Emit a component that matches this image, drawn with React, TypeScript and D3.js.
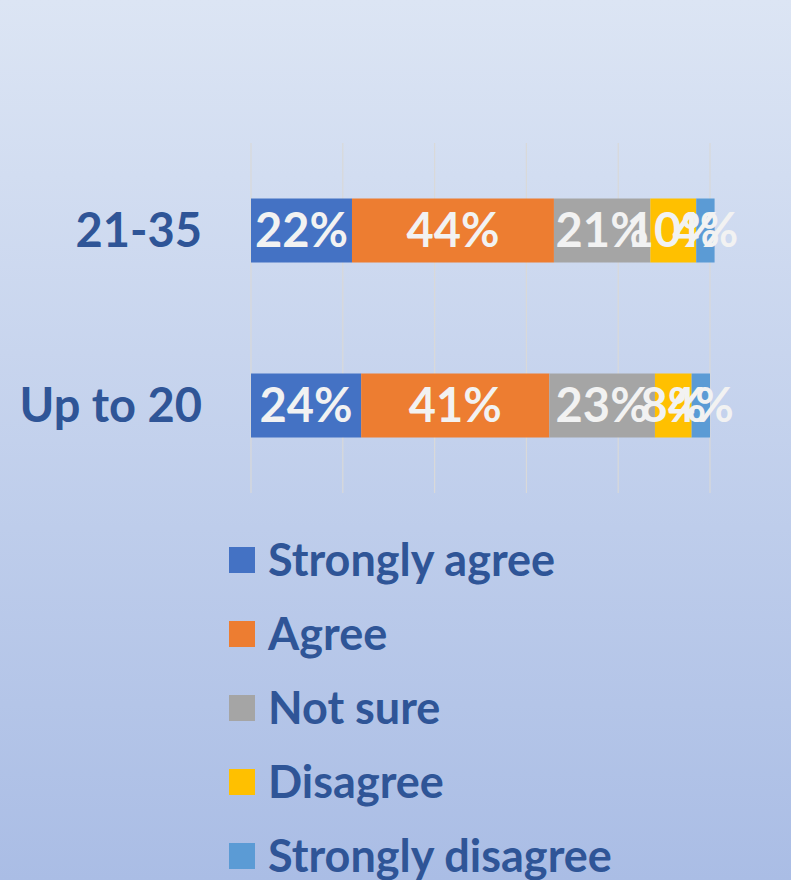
import React from 'react'
import * as d3 from 'd3'

const W = 791
const H = 880

// age groups, top to bottom
const groups = ['21-35', 'Up to 20']
const answers = ['Strongly agree', 'Agree', 'Not sure', 'Disagree', 'Strongly disagree']
const colors = ['#4472c4', '#ed7d31', '#a5a5a5', '#ffc000', '#5b9bd5']
// percent per answer, same order as answers
const values2135 = [22, 44, 21, 10, 4]
const valuesUpTo20 = [24, 41, 23, 8, 4]
const gridTicks = [0, 20, 40, 60, 80, 100]

document.body.style.margin = '0'

const App = () => {
  const x = d3.scaleLinear().domain([0, 100]).range([251, 710])
  const y = d3.scalePoint().domain(groups).range([143, 493]).padding(0.5)
  const barH = 64
  const legendY = d3.scalePoint().domain(answers).range([560, 856])

  const rows = [values2135, valuesUpTo20].map((vals, gi) => {
    let acc = 0
    return vals.map((v, i) => {
      const seg = { group: groups[gi], key: answers[i], x0: acc, x1: acc + v, v, color: colors[i] }
      acc += v
      return seg
    })
  })

  const textColor = '#2f5597'
  const font = 'Lato, "Open Sans", sans-serif'

  return (
    <svg width={W} height={H} style={{ display: 'block' }}>
      <defs>
        <linearGradient id="bg" x1="0" y1="0" x2="0" y2="1">
          <stop offset="0%" stopColor="#dce5f4" />
          <stop offset="100%" stopColor="#aabde5" />
        </linearGradient>
      </defs>
      <rect width={W} height={H} fill="url(#bg)" />

      {/* gridlines */}
      <g>
        {gridTicks.map(t => (
          <line key={t} x1={x(t)} x2={x(t)} y1={143} y2={493} stroke="#d9d9d9" strokeWidth={1.2} />
        ))}
      </g>

      {/* category labels */}
      <g fontFamily={font} fontWeight="bold" fontSize={47} fill={textColor}>
        {groups.map(g => (
          <text key={g} x={202} y={y(g)} dy="0.35em" textAnchor="end">{g}</text>
        ))}
      </g>

      {/* bars */}
      {rows.map((segs, gi) => (
        <g key={gi}>
          {segs.map(s => (
            <rect key={s.key} x={x(s.x0)} y={(y(s.group) as number) - barH / 2}
              width={x(s.x1) - x(s.x0)} height={barH} fill={s.color} />
          ))}
        </g>
      ))}

      {/* data labels */}
      {rows.map((segs, gi) => (
        <g key={'l' + gi} fontFamily={font} fontWeight="bold" fontSize={47} fill="#f2f2f2">
          {segs.map(s => (
            <text key={s.key} x={(x(s.x0) + x(s.x1)) / 2} y={y(s.group)} dy="0.36em" textAnchor="middle">
              {s.v + '%'}
            </text>
          ))}
        </g>
      ))}

      {/* legend */}
      <g fontFamily={font} fontWeight="bold" fontSize={45} fill={textColor}>
        {answers.map((a, i) => (
          <g key={a} transform={`translate(229,${legendY(a)})`}>
            <rect x={0} y={-13} width={26} height={26} fill={colors[i]} />
            <text x={39} y={0} dy="0.35em">{a}</text>
          </g>
        ))}
      </g>
    </svg>
  )
}

export default App
